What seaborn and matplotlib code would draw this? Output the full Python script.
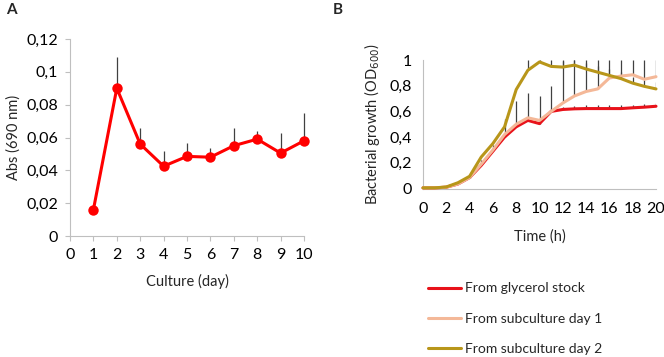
import matplotlib
matplotlib.use("Agg")
import matplotlib.pyplot as plt
import seaborn as sns
import numpy as np
import pandas as pd
from matplotlib.lines import Line2D

# ---- Panel A data ----
days = [1, 2, 3, 4, 5, 6, 7, 8, 9, 10]
abs690 = [0.016, 0.090, 0.056, 0.0425, 0.0485, 0.048, 0.055, 0.059, 0.0505, 0.058]
abs_err = [0.0, 0.019, 0.010, 0.0095, 0.008, 0.0055, 0.0105, 0.005, 0.0125, 0.0168]

# ---- Panel B data ----
hours = list(range(21))
glycerol = [0.005, 0.005, 0.01, 0.035, 0.085, 0.18, 0.29, 0.40, 0.48, 0.53, 0.505,
            0.60, 0.615, 0.62, 0.622, 0.622, 0.622, 0.622, 0.628, 0.633, 0.64]
glycerol_err = [0, 0, 0, 0, 0.005, 0.01, 0.02, 0.02, 0.02, 0.02, 0.02,
                0.02, 0.02, 0.02, 0.025, 0.025, 0.025, 0.025, 0.025, 0.025, 0.025]
sub1 = [0.005, 0.005, 0.01, 0.035, 0.085, 0.19, 0.30, 0.42, 0.50, 0.55, 0.53,
        0.60, 0.665, 0.72, 0.755, 0.775, 0.86, 0.875, 0.885, 0.85, 0.87]
sub1_err = [0, 0, 0, 0, 0, 0.03, 0.04, 0.12, 0.18, 0.19, 0.19,
            0.20, 0.35, 0.30, 0.30, 0.30, 0.20, 0.20, 0.20, 0.20, 0.20]
sub2 = [0.005, 0.005, 0.012, 0.045, 0.095, 0.245, 0.35, 0.48, 0.77, 0.92, 0.985,
        0.95, 0.945, 0.96, 0.93, 0.905, 0.88, 0.855, 0.82, 0.795, 0.775]
sub2_err = [0, 0, 0, 0, 0, 0, 0, 0, 0, 0.10, 0.05,
            0.05, 0.05, 0.05, 0.05, 0.05, 0.05, 0.05, 0.05, 0.05, 0.05]
series_names = ["From glycerol stock", "From subculture day 1", "From subculture day 2"]
colors = ["#E8121A", "#F4B898", "#B8961A"]

sns.set_theme(style="white")
plt.rcParams['font.family'] = ['Lato', 'DejaVu Sans']

fig = plt.figure(figsize=(6.64, 3.57), dpi=100)
W, H = 664, 357

def ax_at(l, t, r, b):
    return fig.add_axes([l / W, 1 - b / H, (r - l) / W, (b - t) / H])

spine_col = "#BFBFBF"
err_col = "#404040"
tick_fs = 11.5
lab_fs = 10.5

# ---------------- Panel A ----------------
axA = ax_at(70, 39, 304, 236)
dfA = pd.DataFrame({"day": days, "abs": abs690})
for d, v, e in zip(days, abs690, abs_err):
    if e > 0:
        axA.vlines(d, v, v + e, color=err_col, lw=0.9, zorder=1, clip_on=False)
sns.lineplot(data=dfA, x="day", y="abs", ax=axA, color="#FF0000", lw=2.2,
             marker="o", markersize=7.5, markeredgewidth=0, zorder=3, clip_on=False)
axA.set_xlim(0, 10)
axA.set_ylim(0, 0.12)
axA.set_xticks(range(0, 11))
axA.set_yticks([0, 0.02, 0.04, 0.06, 0.08, 0.10, 0.12])
axA.set_yticklabels(["0", "0,02", "0,04", "0,06", "0,08", "0,1", "0,12"])
axA.set_xlabel("Culture (day)", fontsize=lab_fs, labelpad=9)
axA.set_ylabel("Abs (690 nm)", fontsize=lab_fs)
axA.yaxis.set_label_coords((21 - 70) / 234, 0.5)
for s in ["top", "right"]:
    axA.spines[s].set_visible(False)
for s in ["left", "bottom"]:
    axA.spines[s].set_color(spine_col)
    axA.spines[s].set_linewidth(0.8)
axA.tick_params(axis="both", which="both", length=3.5, width=0.8, color=spine_col,
                labelsize=tick_fs, pad=5, direction="out", labelcolor="#000000")
axA.tick_params(axis="both", left=True, bottom=True)

# ---------------- Panel B ----------------
axB = ax_at(423, 60, 656, 188.5)
dfB = pd.DataFrame({
    "hour": hours * 3,
    "od": glycerol + sub1 + sub2,
    "series": [series_names[0]] * 21 + [series_names[1]] * 21 + [series_names[2]] * 21,
})
for vals, errs in [(glycerol, glycerol_err), (sub1, sub1_err), (sub2, sub2_err)]:
    for h, v, e in zip(hours, vals, errs):
        if e > 0:
            axB.vlines(h, v, min(v + e, 1.0), color=err_col, lw=0.9, zorder=1)
sns.lineplot(data=dfB, x="hour", y="od", hue="series", palette=colors, ax=axB,
             lw=2.2, zorder=3, legend=False, clip_on=False)
axB.set_xlim(0, 20)
axB.set_ylim(0, 1.0)
axB.set_xticks(range(0, 21, 2))
axB.set_yticks([0, 0.2, 0.4, 0.6, 0.8, 1.0])
axB.set_yticklabels(["0", "0,2", "0,4", "0,6", "0,8", "1"])
axB.set_xlabel("Time (h)", fontsize=lab_fs, labelpad=9)
axB.set_ylabel("Bacterial growth (OD$_{600}$)", fontsize=lab_fs)
axB.yaxis.set_label_coords((382 - 423) / 233, 0.5)
for s in ["top", "right"]:
    axB.spines[s].set_visible(False)
for s in ["left", "bottom"]:
    axB.spines[s].set_color(spine_col)
    axB.spines[s].set_linewidth(0.8)
axB.tick_params(axis="both", length=0, labelsize=tick_fs, pad=10, labelcolor="#000000")
axB.tick_params(axis="y", pad=8)

# legend
handles = [Line2D([0], [0], color=c, lw=2.2) for c in colors]
fig.legend(handles, series_names, loc="upper left",
           bbox_to_anchor=(415 / W, 1 - 270 / H), frameon=False,
           fontsize=10, handlelength=2.4, handletextpad=0.3, labelspacing=1.3)

# panel labels
fig.text(6 / W, 1 - 10 / H, "A", fontsize=11, fontweight="bold", va="center", ha="left")
fig.text(333 / W, 1 - 10 / H, "B", fontsize=11, fontweight="bold", va="center", ha="left")

fig.savefig("out.png", dpi=100)
